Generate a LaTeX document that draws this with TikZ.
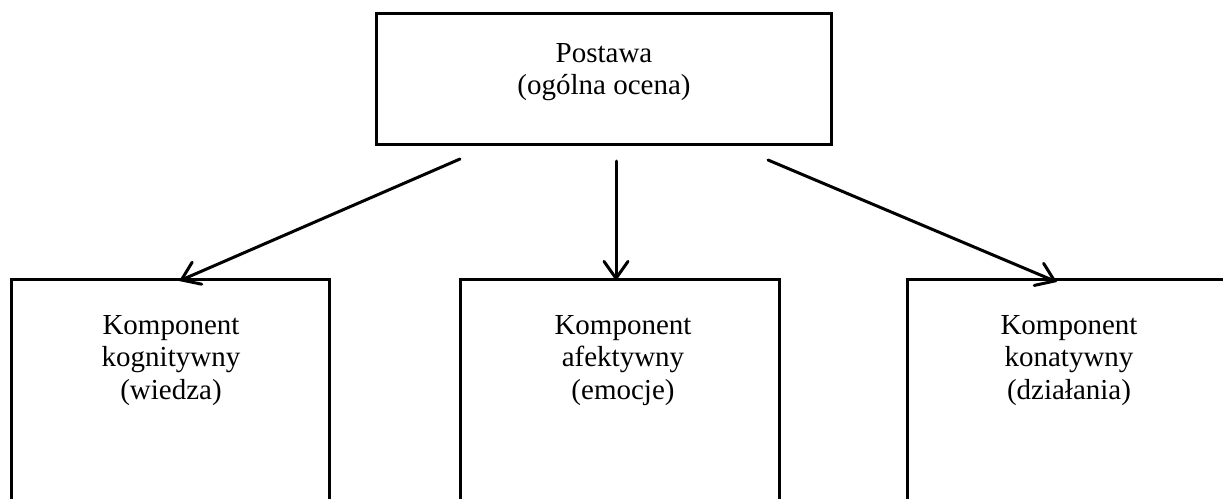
\documentclass[tikz,border=0pt]{standalone}
\usepackage{fontspec}
\setmainfont{Liberation Serif}
\usetikzlibrary{arrows.meta}
\begin{document}
\begin{tikzpicture}[x=1pt,y=-1pt,
  box/.style={draw=black,line width=3pt,fill=none,anchor=north west,inner sep=0pt},
  lbl/.style={anchor=north,align=center,inner sep=0pt,
    font=\fontsize{29}{32.5}\selectfont},
  conn/.style={line width=3pt,line cap=round,
    -{Straight Barb[length=17pt,width=24pt,line cap=round]}}]
  \useasboundingbox (0,0) rectangle (1223,498);
  \begin{scope}
    \clip (0,0) rectangle (1223,498);
    % top box
    \node[box,minimum width=455pt,minimum height=131pt] (top) at (375,12) {};
    % bottom boxes (run past the lower edge)
    \node[box,minimum width=318pt,minimum height=260pt] (kog) at (10,278) {};
    \node[box,minimum width=319pt,minimum height=260pt] (afe) at (459,278) {};
    \node[box,minimum width=330pt,minimum height=260pt] (kon) at (906,278) {};
  \end{scope}
  % labels
  \node[lbl] (topt) at (604,43) {Postawa\\(ogólna ocena)};
  \node[lbl] (kogt) at (171,315) {Komponent\\kognitywny\\(wiedza)};
  \node[lbl] (afet) at (623,315) {Komponent\\afektywny\\(emocje)};
  \node[lbl] (kont) at (1069,315) {Komponent\\konatywny\\(działania)};
  % connectors
  \coordinate (s1) at (460,159);
  \coordinate (s2) at (616,161);
  \coordinate (s3) at (768,160);
  \coordinate (e1) at (179,281);
  \coordinate (e2) at (616,281);
  \coordinate (e3) at (1057,282);
  \draw[conn] (s1) -- (e1);
  \draw[conn] (s2) -- (e2);
  \draw[conn] (s3) -- (e3);
\end{tikzpicture}
\end{document}
